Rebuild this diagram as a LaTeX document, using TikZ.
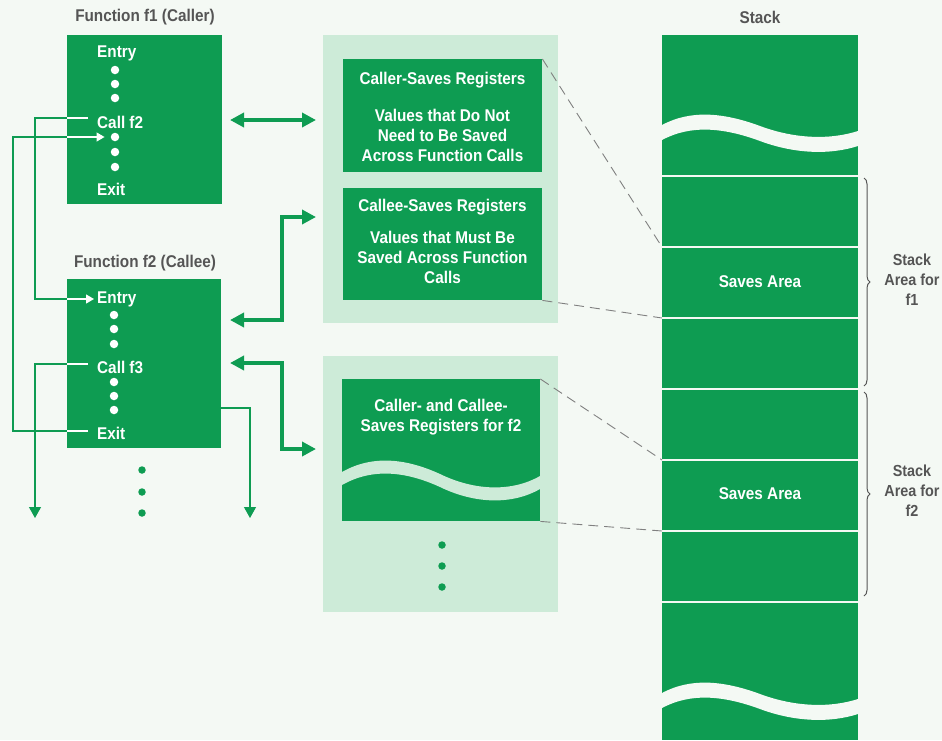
\documentclass[tikz,border=0pt]{standalone}
\usepackage{fontspec}
\setmainfont{Liberation Sans}
\newfontfamily\cond[FakeStretch=0.9]{Liberation Sans}
\usetikzlibrary{arrows.meta,decorations.pathreplacing}
\definecolor{gr}{HTML}{0E9C52}
\definecolor{bg}{HTML}{F4F9F4}
\definecolor{pn}{HTML}{CDEBD8}
\definecolor{tg}{HTML}{555555}
\begin{document}
\begin{tikzpicture}[x=1pt,y=-1pt,
 gbox/.style={fill=gr,draw=none,inner sep=0pt,anchor=north west},
 panel/.style={fill=pn,draw=none,inner sep=0pt,anchor=north west},
 wt/.style={text=white,font=\cond\bfseries\fontsize{17}{20}\selectfont,align=center,inner sep=0pt},
 ttl/.style={text=tg,font=\cond\bfseries\fontsize{17}{20}\selectfont,align=center,inner sep=0pt},
 sttl/.style={text=tg,font=\cond\bfseries\fontsize{16}{20}\selectfont,align=center,inner sep=0pt},
 wdot/.style={circle,fill=white,minimum size=8.5pt,inner sep=0pt},
 gdot/.style={circle,fill=gr,minimum size=7.5pt,inner sep=0pt},
 thinl/.style={draw=gr,line width=1.2pt},
 thinw/.style={draw=white,line width=1.2pt},
 thickarr/.style={draw=gr,line width=4.5pt,line join=miter,{Triangle[length=14pt,width=14pt]}-{Triangle[length=14pt,width=14pt]}},
 dsh/.style={draw=gray,line width=0.9pt,dash pattern=on 10pt off 6pt},
 sepl/.style={draw=bg,line width=2pt}
]
\useasboundingbox (0,0) rectangle (942,740);
\fill[bg] (0,0) rectangle (942,740);

% ---------- left: functions ----------
\node[ttl] (t1) at (145,17) {Function f1 (Caller)};
\node[gbox,minimum width=155pt,minimum height=169pt] (f1) at (67,35) {};
\node[wt,anchor=west] (e1) at (97,53) {Entry};
\node[wdot] (d11) at (115,70) {};
\node[wdot] (d12) at (115,84) {};
\node[wdot] (d13) at (115,98) {};
\node[wt,anchor=west] (c1) at (97,122) {Call f2};
\node[wdot] (d14) at (115,137) {};
\node[wdot] (d15) at (115,152) {};
\node[wdot] (d16) at (115,167) {};
\node[wt,anchor=west] (x1) at (97,189) {Exit};

\node[ttl] (t2) at (145,263) {Function f2 (Callee)};
\node[gbox,minimum width=154pt,minimum height=169pt] (f2) at (67,279) {};
\node[wt,anchor=west] (e2) at (97,299) {Entry};
\node[wdot] (d21) at (114,315) {};
\node[wdot] (d22) at (114,329) {};
\node[wdot] (d23) at (114,344) {};
\node[wt,anchor=west] (c2) at (97,367) {Call f3};
\node[wdot] (d24) at (114,382) {};
\node[wdot] (d25) at (114,396) {};
\node[wdot] (d26) at (114,410) {};
\node[wt,anchor=west] (x2) at (97,433) {Exit};

\node[gdot] (g1) at (142,470) {};
\node[gdot] (g2) at (142,492) {};
\node[gdot] (g3) at (142,513) {};

% thin control-flow lines
\coordinate (dn1) at (35,518);
\coordinate (dn2) at (250,518);
\draw[thinl] (67,118) -- (35,118) -- (35,299) -- (67,299);
\draw[thinw] (c1.west)++(-9,-4) -- (f1.west |- 0,118);
\draw[thinw,-{Triangle[length=8pt,width=9pt]}] (f2.west |- e2) -- ([xshift=-3pt]e2.west);
\draw[thinl] (67,431) -- (13,431) -- (13,137) -- (67,137);
\draw[thinw] (88,431) -- (67,431);
\draw[thinw,-{Triangle[length=8pt,width=9pt]}] (67,137) -- ([xshift=-6pt]d14.west);
\draw[thinw] (88,364) -- (67,364);
\draw[thinl,-{Triangle[length=11pt,width=12pt]}] (67,364) -- (35,364) -- (dn1);
\draw[thinl,-{Triangle[length=11pt,width=12pt]}] (f2.east |- 0,408) -- (250,408) -- (dn2);

% ---------- middle: registers ----------
\node[panel,minimum width=235pt,minimum height=288pt] (p1) at (323,35) {};
\node[panel,minimum width=235pt,minimum height=256pt] (p2) at (323,356) {};
\node[gbox,minimum width=199pt,minimum height=113pt] (caller) at (343,59) {};
\node[wt] (callert) at (442.5,80) {Caller-Saves Registers};
\node[wt] (callerv) at (442.5,135) {Values that Do Not\\Need to Be Saved\\Across Function Calls};
\node[gbox,minimum width=199pt,minimum height=112pt] (callee) at (343,188) {};
\node[wt] (calleet) at (442.5,207) {Callee-Saves Registers};
\node[wt] (calleev) at (442.5,257) {Values that Must Be\\Saved Across Function\\Calls};
\node[gbox,minimum width=198pt,minimum height=142pt] (low) at (342,379) {};
\node[wt] (lowt) at (441,417) {Caller- and Callee-\\Saves Registers for f2};
\fill[pn] (342,472) .. controls (372,455) and (405,458) .. (440,474)
  .. controls (475,491) and (512,492) .. (540,476) -- (540,489)
  .. controls (512,505) and (475,504) .. (440,487)
  .. controls (405,471) and (372,468) .. (342,485) -- cycle;
\node[gdot] (g4) at (442,545) {};
\node[gdot] (g5) at (442,566) {};
\node[gdot] (g6) at (442,587) {};

% thick arrows
\coordinate (a1l) at (230,120); \coordinate (a1r) at (316,120);
\coordinate (a2l) at (230,320); \coordinate (a2r) at (316,217);
\coordinate (a3l) at (230,363); \coordinate (a3r) at (316,449);
\draw[thickarr] (a1l) -- (a1r);
\draw[thickarr] (a2l) -- (282,320) -- (282,217) -- (a2r);
\draw[thickarr] (a3l) -- (282,363) -- (282,449) -- (a3r);

% ---------- right: stack ----------
\node[ttl] (st) at (760,17) {Stack};
\node[gbox,minimum width=196pt,minimum height=705pt] (stack) at (662,35) {};
\foreach \yy in {176,247,318,389,460,531,602} \draw[sepl] (662,\yy) -- (858,\yy);
\fill[bg] (662,125) .. controls (690,110) and (722,112) .. (760,126)
  .. controls (795,139) and (830,140) .. (858,131) -- (858,146)
  .. controls (830,155) and (795,154) .. (760,141)
  .. controls (722,127) and (690,125) .. (662,140) -- cycle;
\begin{scope}[yshift=-568pt]
\fill[bg] (662,125) .. controls (690,110) and (722,112) .. (760,126)
  .. controls (795,139) and (830,140) .. (858,131) -- (858,146)
  .. controls (830,155) and (795,154) .. (760,141)
  .. controls (722,127) and (690,125) .. (662,140) -- cycle;
\end{scope}
\node[wt] (sa1) at (760,282) {Saves Area};
\node[wt] (sa2) at (760,494) {Saves Area};
\coordinate (s1) at (662,247); \coordinate (s2) at (662,318);
\coordinate (s3) at (662,460); \coordinate (s4) at (662,531);
\draw[dsh] (caller.north east) -- (s1);
\draw[dsh] (callee.south east) -- (s2);
\draw[dsh] (low.north east) -- (s3);
\draw[dsh] (low.south east) -- (s4);

\draw[draw=tg,line width=1pt,decorate,decoration={brace,amplitude=6pt}] (864,178) -- (864,386);
\draw[draw=tg,line width=1pt,decorate,decoration={brace,amplitude=6pt}] (864,392) -- (864,596);
\node[sttl] (b1) at (912,280) {Stack\\Area for\\f1};
\node[sttl] (b2) at (912,491) {Stack\\Area for\\f2};
\end{tikzpicture}
\end{document}
